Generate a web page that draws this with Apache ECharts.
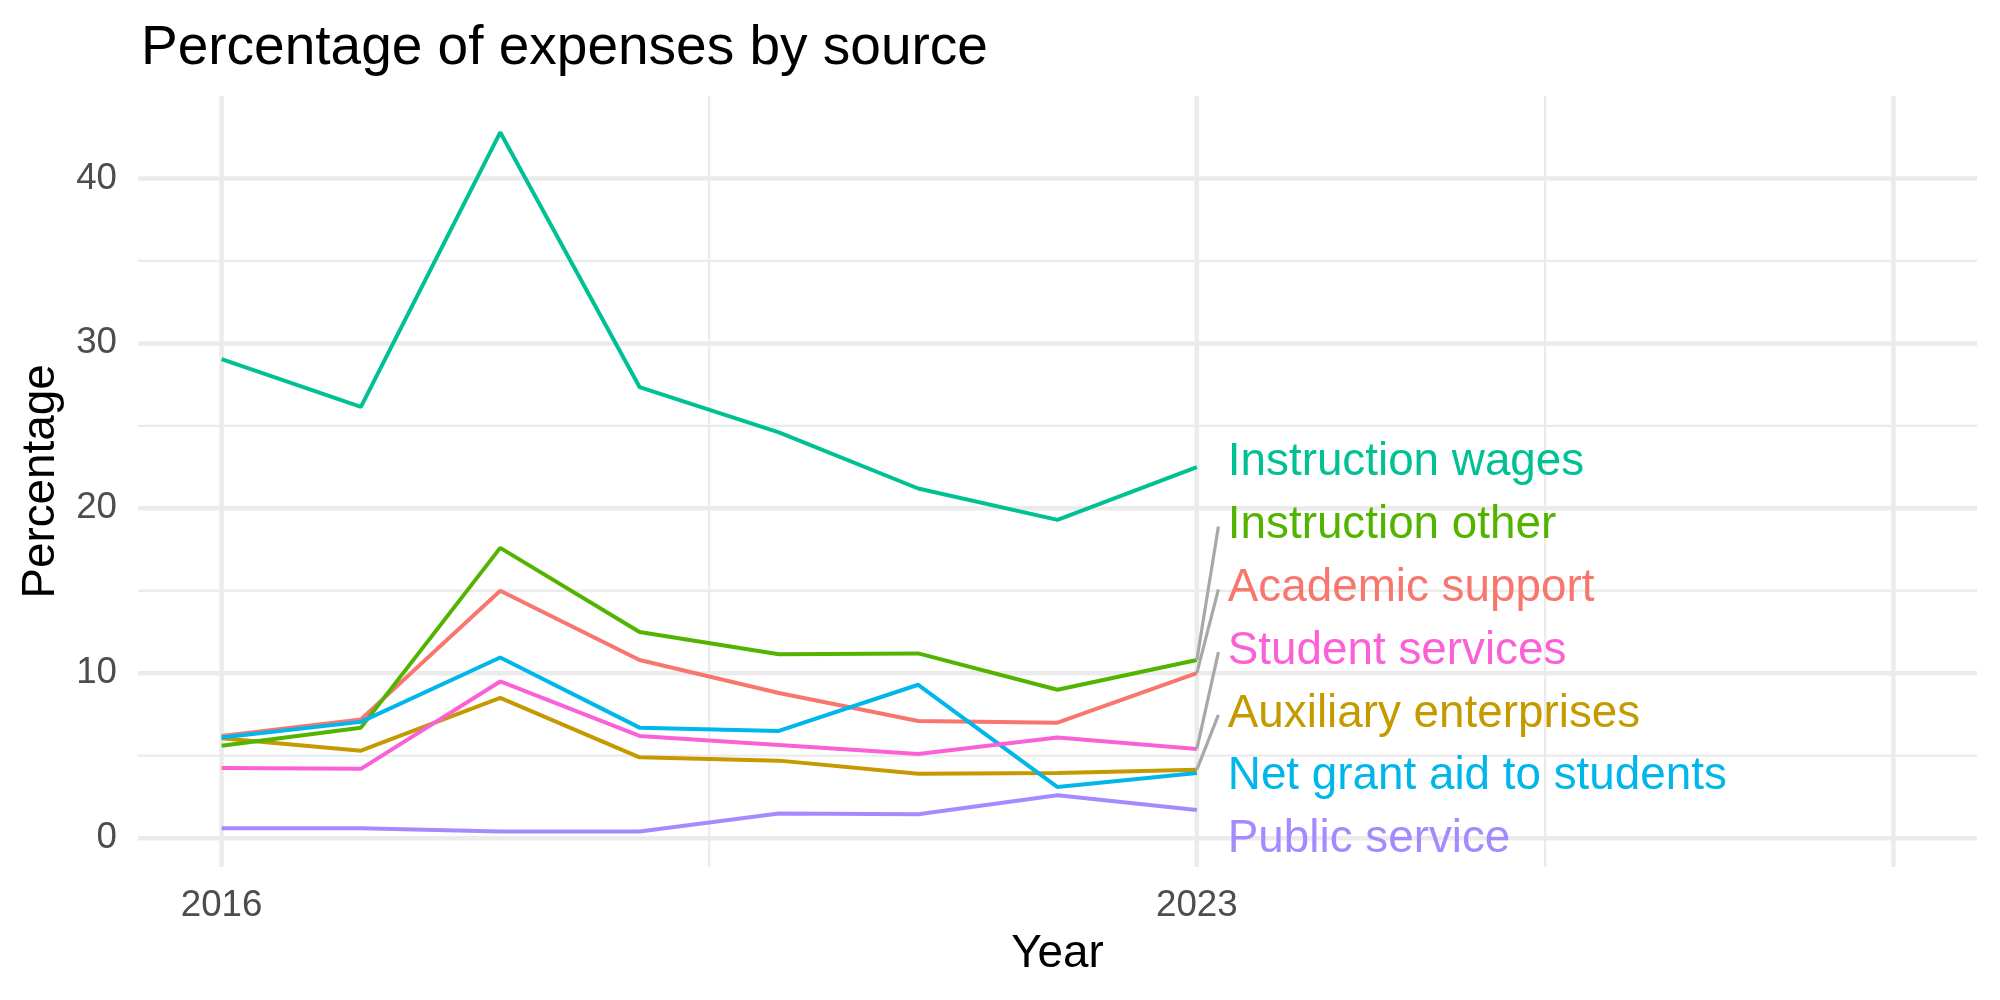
<!DOCTYPE html>
<html>
<head>
<meta charset="utf-8">
<script src="https://cdn.jsdelivr.net/npm/echarts@6/dist/echarts.min.js"></script>
<style>
  html, body { margin: 0; padding: 0; background: #fff; }
  #chart { width: 2000px; height: 1000px; }
</style>
</head>
<body>
<div id="chart"></div>
<script>
// data
var years = [2016, 2017, 2018, 2019, 2020, 2021, 2022, 2023]
var sources = ['Academic support', 'Auxiliary enterprises', 'Instruction other',
  'Instruction wages', 'Net grant aid to students', 'Public service', 'Student services']
var academicSupport = [6.2, 7.2, 15.0, 10.8, 8.8, 7.1, 7.0, 10.0]
var auxiliaryEnterprises = [6.05, 5.3, 8.5, 4.9, 4.7, 3.9, 3.95, 4.15]
var instructionOther = [5.6, 6.7, 17.6, 12.5, 11.15, 11.2, 9.0, 10.8]
var instructionWages = [29.05, 26.15, 42.8, 27.35, 24.6, 21.2, 19.3, 22.5]
var netGrantAid = [6.1, 7.05, 10.95, 6.7, 6.5, 9.3, 3.1, 3.95]
var publicService = [0.6, 0.6, 0.4, 0.4, 1.5, 1.45, 2.6, 1.7]
var studentServices = [4.25, 4.2, 9.5, 6.2, 5.65, 5.1, 6.1, 5.4]
var values = [academicSupport, auxiliaryEnterprises, instructionOther,
  instructionWages, netGrantAid, publicService, studentServices]

// ticks
var xLabelTicks = [2016, 2023]
var xMajor = [2016, 2023, 2028]
var xMinor = [2019.5, 2025.5]
var yMajor = [0, 10, 20, 30, 40]
var yMinor = [5, 15, 25, 35]

var xMin = 2015.4
var xMax = 2028.6
var yMin = -1.75
var yMax = 45

var colors = ['#F8766D', '#C49A00', '#53B400', '#00C094', '#00B6EB', '#A58AFF', '#FB61D7']
var font = 'Liberation Sans, Arial, Helvetica, sans-serif'

// label stacking (like ggrepel on the right side)
var labelBase = 0.15
var labelGap = 3.81
var lastYear = years[years.length - 1]
var order = sources.map((s, i) => i).sort((a, b) => values[a][7] - values[b][7])
var labelY = []
order.forEach((idx, k) => { labelY[idx] = labelBase + k * labelGap })

var chart = echarts.init(document.getElementById('chart'))

var series = []

// grid lines, drawn as plain line series under everything
function gridLine (points, width) {
  series.push({
    type: 'line',
    data: points,
    showSymbol: false,
    silent: true,
    lineStyle: { width: width, color: '#ebebeb' },
    z: 1
  })
}
yMinor.forEach(v => gridLine([[xMin, v], [xMax, v]], 2.3))
xMinor.forEach(v => gridLine([[v, yMin], [v, yMax]], 2.3))
yMajor.forEach(v => gridLine([[xMin, v], [xMax, v]], 4.5))
xMajor.forEach(v => gridLine([[v, yMin], [v, yMax]], 4.5))

// lines
sources.forEach((name, i) => {
  series.push({
    name: name,
    type: 'line',
    data: years.map((y, j) => [y, values[i][j]]),
    showSymbol: false,
    lineStyle: { width: 4, color: colors[i] },
    itemStyle: { color: colors[i] },
    z: 2
  })
})

// segments from line ends to labels
sources.forEach((name, i) => {
  var v = values[i][7]
  if (Math.abs(labelY[i] - v) > 2) {
    series.push({
      type: 'line',
      data: [[lastYear, v], [lastYear + 0.155, labelY[i] - 0.3]],
      showSymbol: false,
      silent: true,
      lineStyle: { width: 3.2, color: '#a8a8a8' },
      z: 3
    })
  }
})

// labels
sources.forEach((name, i) => {
  series.push({
    type: 'scatter',
    data: [[lastYear, labelY[i]]],
    symbolSize: 0,
    silent: true,
    z: 4,
    itemStyle: { opacity: 1, color: colors[i] },
    label: {
      show: true,
      position: 'right',
      distance: 31,
      offset: [0, 4],
      formatter: name,
      color: colors[i],
      opacity: 1,
      textBorderWidth: 0,
      fontFamily: font,
      fontSize: 45.8
    }
  })
})

chart.setOption({
  animation: false,
  backgroundColor: '#fff',
  title: {
    text: 'Percentage of expenses by source',
    left: 136,
    top: 16,
    textStyle: { fontFamily: font, fontSize: 55, fontWeight: 'normal', color: '#000' }
  },
  grid: {
    left: 138,
    right: 23,
    top: 96,
    bottom: 133,
    containLabel: false,
    outerBoundsMode: 'none'
  },
  xAxis: {
    type: 'value',
    min: xMin,
    max: xMax,
    name: 'Year',
    nameLocation: 'middle',
    nameGap: 64,
    nameTextStyle: { fontFamily: font, fontSize: 45.8, color: '#000' },
    axisLine: { show: false },
    axisTick: { show: false },
    splitLine: { show: false },
    axisLabel: {
      customValues: xLabelTicks,
      formatter: v => String(v),
      fontFamily: font,
      fontSize: 36.7,
      color: '#4d4d4d',
      margin: 20
    }
  },
  yAxis: {
    type: 'value',
    min: yMin,
    max: yMax,
    name: 'Percentage',
    nameLocation: 'middle',
    nameRotate: 90,
    nameGap: 74,
    nameTextStyle: { fontFamily: font, fontSize: 45.8, color: '#000' },
    axisLine: { show: false },
    axisTick: { show: false },
    splitLine: { show: false },
    axisLabel: {
      customValues: yMajor,
      formatter: v => String(v),
      align: 'right',
      fontFamily: font,
      fontSize: 36.7,
      color: '#4d4d4d',
      margin: 21
    }
  },
  series: series
})
</script>
</body>
</html>
